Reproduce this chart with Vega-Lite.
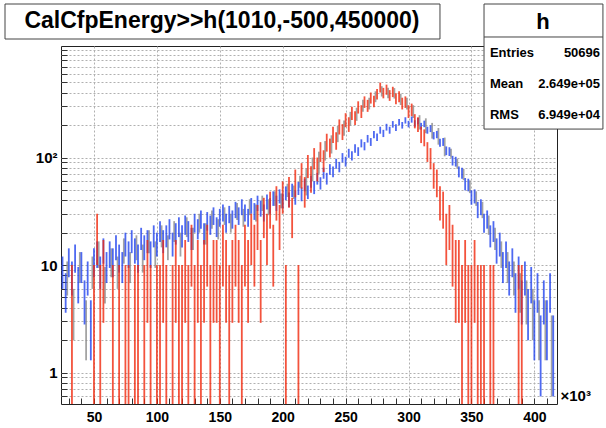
{
  "$schema": "https://vega.github.io/schema/vega-lite/v6.json",
  "width": 496,
  "height": 358,
  "autosize": "none",
  "padding": {"left": 61, "top": 46, "right": 49, "bottom": 24},
  "background": "white",
  "config": {
    "view": {"stroke": "#222", "strokeWidth": 1},
    "axis": {"labelFont": "Liberation Sans", "labelFontWeight": "bold", "labelColor": "#000", "tickColor": "#333", "domain": false, "gridColor": "#b0b0b0", "gridDash": [2, 2], "labelOverlap": false, "labelFlush": false, "tickCount": 200}
  },
  "datasets": {
    "h": [
      {"s":"g","x":28750,"v":8,"e":2.8},{"s":"g","x":33750,"v":4,"e":2},{"s":"g","x":38750,"v":10,"e":3.2},{"s":"g","x":43750,"v":3,"e":1.7},{"s":"g","x":48750,"v":9,"e":3},{"s":"g","x":53750,"v":13,"e":3.6},{"s":"g","x":58750,"v":7,"e":2.6},{"s":"g","x":63750,"v":11,"e":3.3},{"s":"g","x":68750,"v":9,"e":3},{"s":"g","x":73750,"v":14,"e":3.7},{"s":"g","x":78750,"v":10,"e":3.2},{"s":"g","x":83750,"v":15,"e":3.9},{"s":"g","x":88750,"v":12,"e":3.5},{"s":"g","x":93750,"v":17,"e":4.1},{"s":"g","x":98750,"v":13,"e":3.6},{"s":"g","x":103750,"v":19,"e":4.4},{"s":"g","x":108750,"v":15,"e":3.9},{"s":"g","x":113750,"v":21,"e":4.6},{"s":"g","x":118750,"v":16,"e":4},{"s":"g","x":123750,"v":23,"e":4.8},{"s":"g","x":128750,"v":18,"e":4.2},{"s":"g","x":133750,"v":25,"e":5},{"s":"g","x":138750,"v":20,"e":4.5},{"s":"g","x":143750,"v":27,"e":5.2},{"s":"g","x":148750,"v":22,"e":4.7},{"s":"g","x":153750,"v":29,"e":5.4},{"s":"g","x":158750,"v":25,"e":5},{"s":"g","x":163750,"v":32,"e":5.7},{"s":"g","x":168750,"v":28,"e":5.3},{"s":"g","x":173750,"v":35,"e":5.9},{"s":"g","x":178750,"v":31,"e":5.6},{"s":"g","x":183750,"v":38,"e":6.2},{"s":"g","x":188750,"v":35,"e":5.9},{"s":"g","x":193750,"v":42,"e":6.5},{"s":"g","x":198750,"v":40,"e":6.3},{"s":"g","x":203750,"v":50,"e":7.1},{"s":"g","x":208750,"v":48,"e":6.9},{"s":"g","x":213750,"v":60,"e":7.7},{"s":"g","x":218750,"v":62,"e":17.6},{"s":"g","x":223750,"v":80,"e":20},{"s":"g","x":228750,"v":92,"e":21.4},{"s":"g","x":233750,"v":118,"e":24.3},{"s":"g","x":238750,"v":135,"e":26},{"s":"g","x":243750,"v":168,"e":29},{"s":"g","x":248750,"v":190,"e":30.8},{"s":"g","x":253750,"v":232,"e":34.1},{"s":"g","x":258750,"v":255,"e":35.7},{"s":"g","x":263750,"v":305,"e":39},{"s":"g","x":268750,"v":320,"e":40},{"s":"g","x":273750,"v":370,"e":43},{"s":"g","x":278750,"v":415,"e":45.6},{"s":"g","x":283750,"v":400,"e":44.7},{"s":"g","x":288750,"v":398,"e":44.6},{"s":"g","x":293750,"v":350,"e":41.8},{"s":"g","x":298750,"v":320,"e":40},{"s":"g","x":303750,"v":270,"e":36.7},{"s":"g","x":308750,"v":215,"e":32.8},{"s":"g","x":313750,"v":200,"e":31.6},{"s":"g","x":318750,"v":180,"e":30},{"s":"g","x":323750,"v":160,"e":28.3},{"s":"g","x":328750,"v":128,"e":25.3},{"s":"g","x":333750,"v":110,"e":10.5},{"s":"g","x":338750,"v":88,"e":9.4},{"s":"g","x":343750,"v":70,"e":8.4},{"s":"g","x":348750,"v":54,"e":7.3},{"s":"g","x":353750,"v":42,"e":6.5},{"s":"g","x":358750,"v":33,"e":5.7},{"s":"g","x":363750,"v":24,"e":4.9},{"s":"g","x":368750,"v":18,"e":4.2},{"s":"g","x":373750,"v":13,"e":3.6},{"s":"g","x":378750,"v":10,"e":3.2},{"s":"g","x":383750,"v":8,"e":2.8},{"s":"g","x":388750,"v":6,"e":2.4},{"s":"g","x":393750,"v":5,"e":2.2},{"s":"g","x":398750,"v":4,"e":2},{"s":"g","x":403750,"v":3,"e":1.7},{"s":"g","x":408750,"v":3,"e":1.7},{"s":"g","x":413750,"v":2,"e":1.4},
      {"s":"b","x":25000,"v":9,"e":3},{"s":"b","x":27500,"v":6,"e":2.4},{"s":"b","x":30000,"v":11,"e":3.3},{"s":"b","x":32500,"v":8,"e":2.8},{"s":"b","x":35000,"v":12,"e":3.5},{"s":"b","x":37500,"v":7,"e":2.6},{"s":"b","x":40000,"v":10,"e":3.2},{"s":"b","x":42500,"v":5,"e":2.2},{"s":"b","x":45000,"v":8,"e":2.8},{"s":"b","x":47500,"v":3,"e":1.7},{"s":"b","x":50000,"v":11,"e":3.3},{"s":"b","x":52500,"v":13,"e":3.6},{"s":"b","x":55000,"v":9,"e":3},{"s":"b","x":57500,"v":14,"e":3.7},{"s":"b","x":60000,"v":10,"e":3.2},{"s":"b","x":62500,"v":13,"e":3.6},{"s":"b","x":65000,"v":11,"e":3.3},{"s":"b","x":67500,"v":15,"e":3.9},{"s":"b","x":70000,"v":12,"e":3.5},{"s":"b","x":72500,"v":10,"e":3.2},{"s":"b","x":75000,"v":16,"e":4},{"s":"b","x":77500,"v":13,"e":3.6},{"s":"b","x":80000,"v":17,"e":4.1},{"s":"b","x":82500,"v":14,"e":3.7},{"s":"b","x":85000,"v":12,"e":3.5},{"s":"b","x":87500,"v":18,"e":4.2},{"s":"b","x":90000,"v":15,"e":3.9},{"s":"b","x":92500,"v":17,"e":4.1},{"s":"b","x":95000,"v":13,"e":3.6},{"s":"b","x":97500,"v":19,"e":4.4},{"s":"b","x":100000,"v":16,"e":4},{"s":"b","x":102500,"v":21,"e":4.6},{"s":"b","x":105000,"v":17,"e":4.1},{"s":"b","x":107500,"v":19,"e":4.4},{"s":"b","x":110000,"v":22,"e":4.7},{"s":"b","x":112500,"v":16,"e":4},{"s":"b","x":115000,"v":20,"e":4.5},{"s":"b","x":117500,"v":23,"e":4.8},{"s":"b","x":120000,"v":19,"e":4.4},{"s":"b","x":122500,"v":24,"e":4.9},{"s":"b","x":125000,"v":21,"e":4.6},{"s":"b","x":127500,"v":18,"e":4.2},{"s":"b","x":130000,"v":25,"e":5},{"s":"b","x":132500,"v":22,"e":4.7},{"s":"b","x":135000,"v":27,"e":5.2},{"s":"b","x":137500,"v":20,"e":4.5},{"s":"b","x":140000,"v":26,"e":5.1},{"s":"b","x":142500,"v":24,"e":4.9},{"s":"b","x":145000,"v":29,"e":5.4},{"s":"b","x":147500,"v":23,"e":4.8},{"s":"b","x":150000,"v":28,"e":5.3},{"s":"b","x":152500,"v":31,"e":5.6},{"s":"b","x":155000,"v":25,"e":5},{"s":"b","x":157500,"v":30,"e":5.5},{"s":"b","x":160000,"v":27,"e":5.2},{"s":"b","x":162500,"v":33,"e":5.7},{"s":"b","x":165000,"v":29,"e":5.4},{"s":"b","x":167500,"v":35,"e":5.9},{"s":"b","x":170000,"v":31,"e":5.6},{"s":"b","x":172500,"v":28,"e":5.3},{"s":"b","x":175000,"v":36,"e":6},{"s":"b","x":177500,"v":32,"e":5.7},{"s":"b","x":180000,"v":38,"e":6.2},{"s":"b","x":182500,"v":34,"e":5.8},{"s":"b","x":185000,"v":31,"e":5.6},{"s":"b","x":187500,"v":39,"e":6.2},{"s":"b","x":190000,"v":36,"e":6},{"s":"b","x":192500,"v":42,"e":6.5},{"s":"b","x":195000,"v":38,"e":6.2},{"s":"b","x":197500,"v":44,"e":6.6},{"s":"b","x":200000,"v":40,"e":6.3},{"s":"b","x":202500,"v":47,"e":6.9},{"s":"b","x":205000,"v":41,"e":6.4},{"s":"b","x":207500,"v":50,"e":7.1},{"s":"b","x":210000,"v":43,"e":6.6},{"s":"b","x":212500,"v":52,"e":7.2},{"s":"b","x":215000,"v":46,"e":6.8},{"s":"b","x":217500,"v":56,"e":7.5},{"s":"b","x":220000,"v":48,"e":6.9},{"s":"b","x":222500,"v":60,"e":7.7},{"s":"b","x":225000,"v":53,"e":7.3},{"s":"b","x":227500,"v":64,"e":8},{"s":"b","x":230000,"v":58,"e":7.6},{"s":"b","x":232500,"v":72,"e":8.5},{"s":"b","x":235000,"v":64,"e":8},{"s":"b","x":237500,"v":78,"e":8.8},{"s":"b","x":240000,"v":74,"e":8.6},{"s":"b","x":242500,"v":88,"e":9.4},{"s":"b","x":245000,"v":82,"e":9.1},{"s":"b","x":247500,"v":100,"e":10},{"s":"b","x":250000,"v":92,"e":9.6},{"s":"b","x":252500,"v":110,"e":10.5},{"s":"b","x":255000,"v":104,"e":10.2},{"s":"b","x":257500,"v":122,"e":11},{"s":"b","x":260000,"v":114,"e":10.7},{"s":"b","x":262500,"v":136,"e":11.7},{"s":"b","x":265000,"v":128,"e":11.3},{"s":"b","x":267500,"v":150,"e":12.2},{"s":"b","x":270000,"v":140,"e":11.8},{"s":"b","x":272500,"v":164,"e":12.8},{"s":"b","x":275000,"v":155,"e":12.4},{"s":"b","x":277500,"v":180,"e":13.4},{"s":"b","x":280000,"v":168,"e":13},{"s":"b","x":282500,"v":192,"e":13.9},{"s":"b","x":285000,"v":180,"e":13.4},{"s":"b","x":287500,"v":204,"e":14.3},{"s":"b","x":290000,"v":190,"e":13.8},{"s":"b","x":292500,"v":214,"e":14.6},{"s":"b","x":295000,"v":200,"e":14.1},{"s":"b","x":297500,"v":222,"e":14.9},{"s":"b","x":300000,"v":205,"e":14.3},{"s":"b","x":302500,"v":226,"e":15},{"s":"b","x":305000,"v":208,"e":14.4},{"s":"b","x":307500,"v":218,"e":14.8},{"s":"b","x":310000,"v":196,"e":14},{"s":"b","x":312500,"v":206,"e":14.4},{"s":"b","x":315000,"v":180,"e":13.4},{"s":"b","x":317500,"v":186,"e":13.6},{"s":"b","x":320000,"v":160,"e":12.6},{"s":"b","x":322500,"v":164,"e":12.8},{"s":"b","x":325000,"v":138,"e":11.7},{"s":"b","x":327500,"v":140,"e":11.8},{"s":"b","x":330000,"v":116,"e":10.8},{"s":"b","x":332500,"v":114,"e":10.7},{"s":"b","x":335000,"v":94,"e":9.7},{"s":"b","x":337500,"v":92,"e":9.6},{"s":"b","x":340000,"v":74,"e":8.6},{"s":"b","x":342500,"v":72,"e":8.5},{"s":"b","x":345000,"v":57,"e":7.5},{"s":"b","x":347500,"v":56,"e":7.5},{"s":"b","x":350000,"v":43,"e":6.6},{"s":"b","x":352500,"v":44,"e":6.6},{"s":"b","x":355000,"v":33,"e":5.7},{"s":"b","x":357500,"v":35,"e":5.9},{"s":"b","x":360000,"v":25,"e":5},{"s":"b","x":362500,"v":27,"e":5.2},{"s":"b","x":365000,"v":19,"e":4.4},{"s":"b","x":367500,"v":21,"e":4.6},{"s":"b","x":370000,"v":14,"e":3.7},{"s":"b","x":372500,"v":16,"e":4},{"s":"b","x":375000,"v":10,"e":3.2},{"s":"b","x":377500,"v":13,"e":3.6},{"s":"b","x":380000,"v":8,"e":2.8},{"s":"b","x":382500,"v":11,"e":3.3},{"s":"b","x":385000,"v":6,"e":2.4},{"s":"b","x":387500,"v":9,"e":3},{"s":"b","x":390000,"v":5,"e":2.2},{"s":"b","x":392500,"v":8,"e":2.8},{"s":"b","x":395000,"v":4,"e":2},{"s":"b","x":397500,"v":7,"e":2.6},{"s":"b","x":400000,"v":3,"e":1.7},{"s":"b","x":402500,"v":6,"e":2.4},{"s":"b","x":405000,"v":2,"e":1.4},{"s":"b","x":407500,"v":5,"e":2.2},{"s":"b","x":410000,"v":3,"e":1.7},{"s":"b","x":412500,"v":6,"e":2.4},{"s":"b","x":415000,"v":2,"e":1.4},
      {"s":"r","x":32500,"v":5,"e":5},{"s":"r","x":50000,"v":5,"e":5},{"s":"r","x":52500,"v":20,"e":10},{"s":"r","x":55000,"v":5,"e":5},{"s":"r","x":57500,"v":10,"e":7.1},{"s":"r","x":65000,"v":5,"e":5},{"s":"r","x":70000,"v":5,"e":5},{"s":"r","x":75000,"v":5,"e":5},{"s":"r","x":77500,"v":5,"e":5},{"s":"r","x":82500,"v":5,"e":5},{"s":"r","x":85000,"v":5,"e":5},{"s":"r","x":90000,"v":5,"e":5},{"s":"r","x":92500,"v":10,"e":7.1},{"s":"r","x":95000,"v":5,"e":5},{"s":"r","x":100000,"v":5,"e":5},{"s":"r","x":102500,"v":5,"e":5},{"s":"r","x":105000,"v":10,"e":7.1},{"s":"r","x":107500,"v":5,"e":5},{"s":"r","x":112500,"v":5,"e":5},{"s":"r","x":115000,"v":10,"e":7.1},{"s":"r","x":117500,"v":5,"e":5},{"s":"r","x":120000,"v":5,"e":5},{"s":"r","x":122500,"v":10,"e":7.1},{"s":"r","x":125000,"v":5,"e":5},{"s":"r","x":127500,"v":15,"e":8.7},{"s":"r","x":130000,"v":5,"e":5},{"s":"r","x":132500,"v":10,"e":7.1},{"s":"r","x":135000,"v":5,"e":5},{"s":"r","x":137500,"v":10,"e":7.1},{"s":"r","x":140000,"v":15,"e":8.7},{"s":"r","x":142500,"v":5,"e":5},{"s":"r","x":145000,"v":10,"e":7.1},{"s":"r","x":147500,"v":10,"e":7.1},{"s":"r","x":150000,"v":5,"e":5},{"s":"r","x":152500,"v":15,"e":8.7},{"s":"r","x":155000,"v":10,"e":7.1},{"s":"r","x":157500,"v":5,"e":5},{"s":"r","x":160000,"v":10,"e":7.1},{"s":"r","x":162500,"v":15,"e":8.7},{"s":"r","x":165000,"v":10,"e":7.1},{"s":"r","x":167500,"v":5,"e":5},{"s":"r","x":170000,"v":15,"e":8.7},{"s":"r","x":172500,"v":10,"e":7.1},{"s":"r","x":175000,"v":20,"e":10},{"s":"r","x":177500,"v":15,"e":8.7},{"s":"r","x":180000,"v":25,"e":11.2},{"s":"r","x":182500,"v":10,"e":7.1},{"s":"r","x":185000,"v":30,"e":12.2},{"s":"r","x":187500,"v":20,"e":10},{"s":"r","x":190000,"v":35,"e":13.2},{"s":"r","x":192500,"v":15,"e":8.7},{"s":"r","x":195000,"v":40,"e":14.1},{"s":"r","x":197500,"v":25,"e":11.2},{"s":"r","x":200000,"v":45,"e":15},{"s":"r","x":202500,"v":5,"e":5},{"s":"r","x":205000,"v":50,"e":15.8},{"s":"r","x":207500,"v":30,"e":12.2},{"s":"r","x":210000,"v":60,"e":17.3},{"s":"r","x":212500,"v":5,"e":5},{"s":"r","x":215000,"v":70,"e":18.7},{"s":"r","x":217500,"v":50,"e":15.8},{"s":"r","x":220000,"v":85,"e":20.6},{"s":"r","x":222500,"v":65,"e":18},{"s":"r","x":225000,"v":100,"e":22.4},{"s":"r","x":227500,"v":80,"e":20},{"s":"r","x":230000,"v":115,"e":24},{"s":"r","x":232500,"v":95,"e":21.8},{"s":"r","x":235000,"v":140,"e":26.5},{"s":"r","x":237500,"v":125,"e":25},{"s":"r","x":240000,"v":165,"e":28.7},{"s":"r","x":242500,"v":145,"e":26.9},{"s":"r","x":245000,"v":195,"e":31.2},{"s":"r","x":247500,"v":175,"e":29.6},{"s":"r","x":250000,"v":225,"e":33.5},{"s":"r","x":252500,"v":205,"e":32},{"s":"r","x":255000,"v":260,"e":36.1},{"s":"r","x":257500,"v":235,"e":34.3},{"s":"r","x":260000,"v":295,"e":38.4},{"s":"r","x":262500,"v":270,"e":36.7},{"s":"r","x":265000,"v":330,"e":40.6},{"s":"r","x":267500,"v":305,"e":39},{"s":"r","x":270000,"v":360,"e":42.4},{"s":"r","x":272500,"v":335,"e":40.9},{"s":"r","x":275000,"v":390,"e":44.2},{"s":"r","x":277500,"v":450,"e":47.4},{"s":"r","x":280000,"v":400,"e":44.7},{"s":"r","x":282500,"v":430,"e":46.4},{"s":"r","x":285000,"v":380,"e":43.6},{"s":"r","x":287500,"v":410,"e":45.3},{"s":"r","x":290000,"v":355,"e":42.1},{"s":"r","x":292500,"v":370,"e":43},{"s":"r","x":295000,"v":320,"e":40},{"s":"r","x":297500,"v":330,"e":40.6},{"s":"r","x":300000,"v":270,"e":36.7},{"s":"r","x":302500,"v":280,"e":37.4},{"s":"r","x":305000,"v":220,"e":33.2},{"s":"r","x":307500,"v":205,"e":32},{"s":"r","x":310000,"v":165,"e":28.7},{"s":"r","x":312500,"v":155,"e":27.8},{"s":"r","x":315000,"v":115,"e":24},{"s":"r","x":317500,"v":100,"e":22.4},{"s":"r","x":320000,"v":70,"e":18.7},{"s":"r","x":322500,"v":60,"e":17.3},{"s":"r","x":325000,"v":40,"e":14.1},{"s":"r","x":327500,"v":35,"e":13.2},{"s":"r","x":330000,"v":20,"e":10},{"s":"r","x":332500,"v":25,"e":11.2},{"s":"r","x":335000,"v":15,"e":8.7},{"s":"r","x":337500,"v":10,"e":7.1},{"s":"r","x":340000,"v":10,"e":7.1},{"s":"r","x":342500,"v":5,"e":5},{"s":"r","x":345000,"v":10,"e":7.1},{"s":"r","x":347500,"v":5,"e":5},{"s":"r","x":350000,"v":5,"e":5},{"s":"r","x":352500,"v":10,"e":7.1},{"s":"r","x":355000,"v":5,"e":5},{"s":"r","x":357500,"v":5,"e":5},{"s":"r","x":360000,"v":5,"e":5},{"s":"r","x":365000,"v":5,"e":5},{"s":"r","x":367500,"v":5,"e":5},{"s":"r","x":387500,"v":5,"e":5},{"s":"r","x":390000,"v":5,"e":5}
    ]
  },
  "layer": [
    {
      "data": {"name": "h"},
      "encoding": {
        "x": {"field": "x", "type": "quantitative", "scale": {"domain": [23800, 418000], "nice": false, "zero": false},
          "axis": {"values": [30000,40000,50000,60000,70000,80000,90000,100000,110000,120000,130000,140000,150000,160000,170000,180000,190000,200000,210000,220000,230000,240000,250000,260000,270000,280000,290000,300000,310000,320000,330000,340000,350000,360000,370000,380000,390000,400000,410000],
            "tickCount": 200,
            "labelExpr": "datum.value % 50000 == 0 ? format(datum.value / 1000, 'd') : ''",
            "gridOpacity": {"condition": {"test": "datum.value % 50000 == 0", "value": 1}, "value": 0},
            "tickSize": -6, "labelPadding": 12, "labelFontSize": 14,
            "title": "×10³", "titleX": 499, "titleY": -1, "titleAlign": "left", "titleBaseline": "bottom", "titleFont": "Liberation Sans", "titleFontSize": 15, "titleFontWeight": "bold", "titleColor": "#000"}},
        "y": {"field": "v", "type": "quantitative", "scale": {"type": "log", "domain": [0.51, 1090], "nice": false, "clamp": true},
          "axis": {"values": [0.6,0.7,0.8,0.9,1,2,3,4,5,6,7,8,9,10,20,30,40,50,60,70,80,90,100,200,300,400,500,600,700,800,900,1000],
            "tickCount": 200,
            "labelExpr": "datum.value == 1 ? '1' : datum.value == 10 ? '10' : datum.value == 100 ? '10²' : ''",
            "tickSize": -6, "labelPadding": 10, "labelFontSize": 15, "title": null}},
        "color": {"field": "s", "type": "nominal", "scale": {"domain": ["g", "b", "r"], "range": ["#8c8c8c", "#2244ee", "#f0280c"]}, "legend": null}
      },
      "layer": [
        {"mark": {"type": "errorbar", "ticks": false, "rule": {"strokeWidth": 1.8, "opacity": 0.8}}, "encoding": {"yError": {"field": "e"}}}
      ]
    },
    {
      "data": {"values": [{}]},
      "layer": [
        {"mark": {"type": "rect", "fill": "white", "stroke": "#444", "strokeWidth": 1},
         "encoding": {"x": {"datum": -20700}, "x2": {"datum": 325000},
           "y": {"datum": 2679, "type": "quantitative", "scale": {"type": "log", "domain": [0.51, 1090], "nice": false}, "axis": null},
           "y2": {"datum": 1266}}},
        {"mark": {"type": "text", "text": "CalCfpEnergy>>h(1010,-500,450000)", "font": "Liberation Sans", "fontSize": 23, "fontWeight": "bold", "align": "center", "baseline": "middle", "color": "#000"},
         "encoding": {"x": {"datum": 151700}, "y": {"datum": 1861, "type": "quantitative"}}},
        {"mark": {"type": "rect", "fill": "white", "stroke": "#444", "strokeWidth": 1},
         "encoding": {"x": {"datum": 360000}, "x2": {"datum": 454500}, "y": {"datum": 2679, "type": "quantitative"}, "y2": {"datum": 184}}},
        {"mark": {"type": "rule", "stroke": "#444", "strokeWidth": 1},
         "encoding": {"x": {"datum": 360000}, "x2": {"datum": 454500}, "y": {"datum": 1322, "type": "quantitative"}}},
        {"mark": {"type": "text", "text": "h", "font": "Liberation Sans", "fontSize": 22, "fontWeight": "bold", "align": "center", "baseline": "middle", "color": "#000"},
         "encoding": {"x": {"datum": 406900}, "y": {"datum": 1822, "type": "quantitative"}}},
        {"mark": {"type": "text", "text": "Entries", "font": "Liberation Sans", "fontSize": 13, "fontWeight": "bold", "align": "left", "baseline": "middle", "color": "#000"},
         "encoding": {"x": {"datum": 364700}, "y": {"datum": 938, "type": "quantitative"}}},
        {"mark": {"type": "text", "text": "50696", "font": "Liberation Sans", "fontSize": 13, "fontWeight": "bold", "align": "right", "baseline": "middle", "color": "#000"},
         "encoding": {"x": {"datum": 452200}, "y": {"datum": 938, "type": "quantitative"}}},
        {"mark": {"type": "text", "text": "Mean", "font": "Liberation Sans", "fontSize": 13, "fontWeight": "bold", "align": "left", "baseline": "middle", "color": "#000"},
         "encoding": {"x": {"datum": 364700}, "y": {"datum": 483, "type": "quantitative"}}},
        {"mark": {"type": "text", "text": "2.649e+05", "font": "Liberation Sans", "fontSize": 13, "fontWeight": "bold", "align": "right", "baseline": "middle", "color": "#000"},
         "encoding": {"x": {"datum": 452200}, "y": {"datum": 483, "type": "quantitative"}}},
        {"mark": {"type": "text", "text": "RMS", "font": "Liberation Sans", "fontSize": 13, "fontWeight": "bold", "align": "left", "baseline": "middle", "color": "#000"},
         "encoding": {"x": {"datum": 364700}, "y": {"datum": 249, "type": "quantitative"}}},
        {"mark": {"type": "text", "text": "6.949e+04", "font": "Liberation Sans", "fontSize": 13, "fontWeight": "bold", "align": "right", "baseline": "middle", "color": "#000"},
         "encoding": {"x": {"datum": 452200}, "y": {"datum": 249, "type": "quantitative"}}}
      ]
    }
  ],
  "resolve": {"scale": {"y": "independent"}}
}
